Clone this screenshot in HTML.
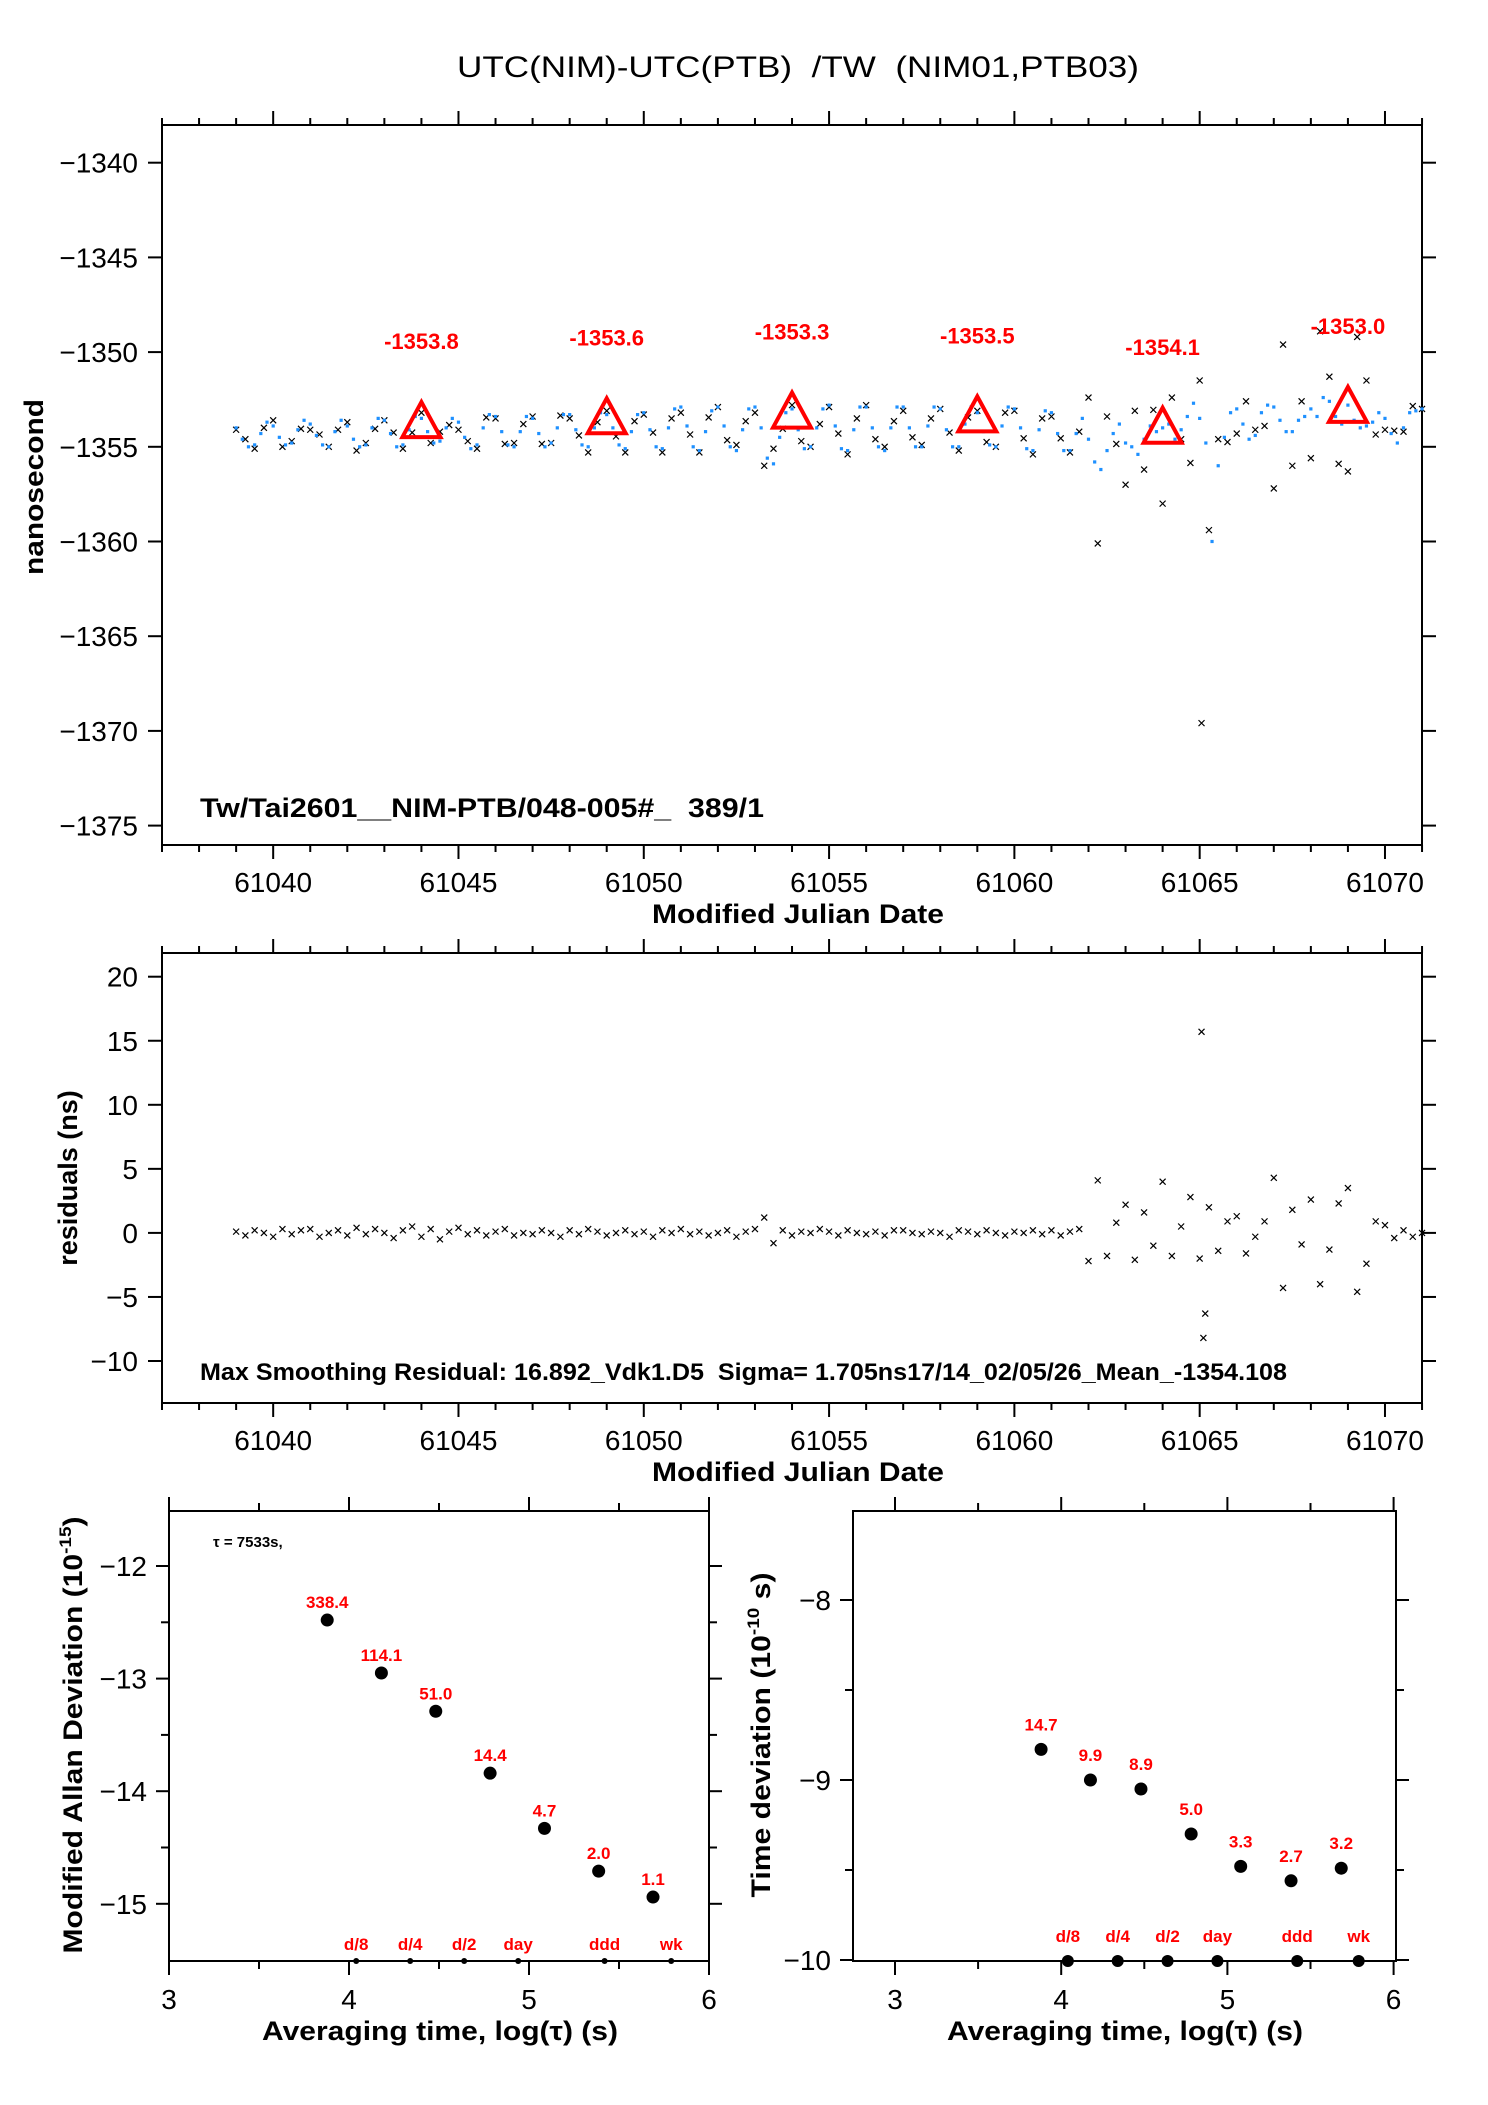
<!DOCTYPE html>
<html><head><meta charset="utf-8"><style>
html,body{margin:0;padding:0;background:#fff;}
svg{display:block;font-family:"Liberation Sans",Arial,sans-serif;}
text{white-space:pre;}
</style></head><body>
<svg id="chart" width="1488" height="2105" viewBox="0 0 1488 2105" xmlns="http://www.w3.org/2000/svg">
<rect x="0" y="0" width="1488" height="2105" fill="#fff"/>
<text x="798" y="77" font-size="30" text-anchor="middle" textLength="682" lengthAdjust="spacingAndGlyphs" xml:space="preserve">UTC(NIM)-UTC(PTB)  /TW  (NIM01,PTB03)</text>
<g id="p1"></g>
<g id="p2"></g>
<g id="p3"></g>
<g id="p4"></g>
</svg>
<script>
// ---- data ----
const blueStartMJD = 61039.0;
const blueStep = 1/6;
const blueValues = [
-1354.0,-1354.6,-1355.0,-1354.9,-1354.3,-1353.7,
-1353.9,-1354.5,-1354.9,-1354.8,-1354.1,-1353.6,
-1353.8,-1354.4,-1354.9,-1355.0,-1354.2,-1353.6,
-1353.9,-1354.6,-1355.0,-1354.9,-1354.0,-1353.5,
-1353.6,-1354.3,-1355.0,-1354.9,-1354.1,-1353.4,
-1353.5,-1354.2,-1354.8,-1354.7,-1354.0,-1353.5,
-1353.7,-1354.5,-1355.1,-1354.9,-1354.0,-1353.3,
-1353.4,-1354.2,-1354.9,-1355.0,-1354.2,-1353.4,
-1353.5,-1354.3,-1355.0,-1354.8,-1354.0,-1353.3,
-1353.3,-1354.1,-1354.9,-1355.0,-1354.0,-1353.2,
-1353.3,-1354.0,-1354.9,-1355.1,-1354.2,-1353.3,
-1353.2,-1354.1,-1355.0,-1355.1,-1354.0,-1353.0,
-1352.9,-1353.9,-1355.0,-1355.2,-1354.2,-1353.1,
-1352.9,-1353.9,-1355.0,-1355.2,-1354.1,-1353.0,
-1352.9,-1354.0,-1355.6,-1355.9,-1354.5,-1353.2,
-1353.0,-1354.1,-1355.1,-1355.0,-1354.0,-1353.0,
-1352.8,-1353.9,-1355.1,-1355.2,-1354.1,-1352.9,
-1352.9,-1354.0,-1355.0,-1355.2,-1354.0,-1352.9,
-1352.9,-1354.0,-1355.0,-1355.0,-1353.9,-1352.9,
-1353.0,-1354.1,-1355.0,-1355.0,-1353.8,-1352.9,
-1353.2,-1354.2,-1354.9,-1355.0,-1353.9,-1352.9,
-1353.0,-1354.0,-1355.1,-1355.2,-1354.1,-1353.1,
-1353.2,-1354.3,-1355.2,-1355.2,-1354.3,-1353.5,
-1354.6,-1355.8,-1356.2,-1355.2,-1354.3,-1353.8,
-1354.8,-1355.0,-1355.4,-1354.6,-1353.9,-1354.2,
-1354.0,-1353.8,-1354.6,-1354.1,-1353.4,-1352.7,
-1353.5,-1354.8,-1360.0,-1356.0,-1354.5,-1353.2,
-1353.0,-1353.8,-1354.6,-1354.4,-1353.2,-1352.8,
-1352.9,-1353.6,-1354.2,-1354.2,-1353.6,-1353.4,
-1353.0,-1353.4,-1352.4,-1352.6,-1353.4,-1353.8,
-1352.8,-1353.6,-1354.0,-1353.9,-1353.7,-1353.2,
-1353.5,-1354.3,-1354.8,-1354.0,-1353.2,-1353.1,
-1353.0];
const residStartMJD = 61039.0;
const residStep = 0.25;
const residValues = [
0.1,-0.2,0.2,0.0, -0.3,0.3,-0.1,0.2, 0.3,-0.3,0.0,0.2, -0.2,0.4,-0.1,0.3,
0.0,-0.4,0.2,0.5, -0.3,0.3,-0.5,0.1, 0.4,-0.1,0.2,-0.2, 0.1,0.3,-0.2,0.0,
-0.1,0.2,0.0,-0.3, 0.2,-0.1,0.3,0.1, -0.2,0.0,0.2,-0.1, 0.1,-0.3,0.2,0.0,
0.3,-0.1,0.1,-0.2, 0.0,0.2,-0.3,0.1, 0.3,1.2,-0.8,0.2, -0.2,0.1,0.0,0.3,
0.1,-0.2,0.2,0.0, -0.1,0.1,-0.2,0.2, 0.2,0.0,-0.1,0.1, 0.0,-0.3,0.2,0.1,
-0.1,0.2,0.0,-0.2, 0.1,0.0,0.2,-0.1, 0.2,-0.2,0.1,0.3, -2.2,4.1,-1.8,0.8,
2.2,-2.1,1.6,-1.0, 4.0,-1.8,0.5,2.8, -2.0,2.0,-1.4,0.9, 1.3,-1.6,-0.3,0.9,
4.3,-4.3,1.8,-0.9, 2.6,-4.0,-1.3,2.3, 3.5,-4.6,-2.4,0.9, 0.6,-0.4,0.2,-0.3,
0.0];
const outlierMJD = [61065.05, 61065.1, 61065.15];
const outlierResid = [15.7, -8.2, -6.3];
const triMJD = [61044, 61049, 61054, 61059, 61064, 61069];
const triValues = [-1353.8, -1353.6, -1353.3, -1353.5, -1354.1, -1353.0];
const triLabels = ["-1353.8","-1353.6","-1353.3","-1353.5","-1354.1","-1353.0"];
const p1YTicks = [-1340,-1345,-1350,-1355,-1360,-1365,-1370,-1375];
const p2YTicks = [20,15,10,5,0,-5,-10];
const mjdTicks = [61040,61045,61050,61055,61060,61065,61070];
const mdevLogTau = [3.879,4.18,4.482,4.784,5.086,5.387,5.689];
const mdevValues = [-12.48,-12.95,-13.29,-13.84,-14.33,-14.71,-14.94];
const mdevLabels = ["338.4","114.1","51.0","14.4","4.7","2.0","1.1"];
const tdevLogTau = [3.879,4.176,4.48,4.782,5.08,5.383,5.685];
const tdevValues = [-8.83,-9.0,-9.05,-9.30,-9.48,-9.56,-9.49];
const tdevLabels = ["14.7","9.9","8.9","5.0","3.3","2.7","3.2"];
const markerLogTau = [4.04,4.34,4.64,4.94,5.42,5.79];
const markerLabels = ["d/8","d/4","d/2","day","ddd","wk"];
const mdevYTicks = [-12,-13,-14,-15];
const tdevYTicks = [-8,-9,-10];
const logTicks = [3,4,5,6];

// ---- helpers ----
const NS="http://www.w3.org/2000/svg";
function mk(parent, tag, attrs, txt){
  const e=document.createElementNS(NS,tag);
  for(const k in attrs) e.setAttribute(k,attrs[k]);
  if(txt!==undefined) e.textContent=txt;
  parent.appendChild(e); return e;
}
const xs = d => 162 + (d-61037)*37.06;
const ys1 = v => 162.7 + (-1340 - v)*18.94;
const ys2 = v => 976.7 + (20 - v)*12.81;
const bx = l => 169 + (l-3)*180;
const by = v => 1566 + (-12 - v)*112.6;
const rx = l => 895 + (l-3)*166.2;
const ry = v => 1600 + (-8 - v)*180;
const blueAt = d => {
  const f=(d-blueStartMJD)/blueStep; const i=Math.max(0,Math.min(blueValues.length-2,Math.floor(f)));
  const t=f-i; return blueValues[i]*(1-t)+blueValues[i+1]*t;
};
const L = (g,x1,y1,x2,y2,w) => mk(g,'line',{x1,y1,x2,y2,stroke:'#000','stroke-width':w||2});

function cross(g,x,y,name){
  const c=mk(g,'path',{d:`M${x-3},${y-3}L${x+3},${y+3}M${x-3},${y+3}L${x+3},${y-3}`,stroke:'#000','stroke-width':1.2,fill:'none'});
  
  
}

function mjdFrame(g, top, bottom, yTicks, ysf, labelPrefix){
  const fr=mk(g,'rect',{x:162,y:top,width:1260,height:bottom-top,fill:'none',stroke:'#000','stroke-width':2});
  
  
  for(let d=61037; d<=61071; d++){
    const major = d%5===0; const x=xs(d); const len=major?14:7;
    L(g,x,top,x,top-len,2); L(g,x,bottom,x,bottom+len,2);
  }
  mjdTicks.forEach(d=>{
    const t=mk(g,'text',{x:xs(d),y:bottom+47,'font-size':28,'text-anchor':'middle'},String(d));
    
    
  });
  yTicks.forEach(v=>{
    const y=ysf(v); L(g,148,y,162,y,2); L(g,1422,y,1436,y,2);
    const t=mk(g,'text',{x:138,y:y+10,'font-size':28,'text-anchor':'end'},(v<0?'\u2212'+(-v):String(v)));
    
    
  });
  const xt=mk(g,'text',{x:798,y:bottom+78,'font-size':27,'font-weight':'bold','text-anchor':'middle',textLength:292,lengthAdjust:'spacingAndGlyphs'},'Modified Julian Date');
  
  
}

// ---- plot 1 ----
const p1=document.getElementById('p1');
mjdFrame(p1,125,845,p1YTicks,ys1,'offset');
(function(){
  const t=mk(p1,'text',{x:0,y:0,'font-size':27,'font-weight':'bold','text-anchor':'middle',transform:'translate(43,487) rotate(-90)',textLength:176,lengthAdjust:'spacingAndGlyphs'},'nanosecond');
   
  const a=mk(p1,'text',{x:200,y:817,'font-size':27,'font-weight':'bold',textLength:564,lengthAdjust:'spacingAndGlyphs'},'Tw/Tai2601__NIM-PTB/048-005#_  389/1');
   
})();
residValues.forEach((r,i)=>{
  const d=residStartMJD+i*residStep;
  cross(p1,xs(d),ys1(blueAt(d)-r),'measurement-cross');
});
cross(p1,xs(outlierMJD[0]),ys1(blueAt(outlierMJD[0])-outlierResid[0]),'measurement-outlier');
blueValues.forEach((v,i)=>{
  const d=blueStartMJD+i*blueStep;
  const r=mk(p1,'rect',{x:xs(d)-1.6,y:ys1(v)-1.6,width:3.2,height:3.2,fill:'#1e90ff'});
  
  
});
triMJD.forEach((d,i)=>{
  const x=xs(d), y=ys1(triValues[i]);
  const t=mk(p1,'polygon',{points:`${x},${y-22} ${x-19},${y+13} ${x+19},${y+13}`,fill:'none',stroke:'#ff0000','stroke-width':4});
  
  
  const l=mk(p1,'text',{x:x,y:y-75,'font-size':22,'font-weight':'bold',fill:'#ff0000','text-anchor':'middle'},triLabels[i]);
  
  
});

// ---- plot 2 ----
const p2=document.getElementById('p2');
mjdFrame(p2,953,1403,p2YTicks,ys2,'residuals');
(function(){
  const t=mk(p2,'text',{x:0,y:0,'font-size':27,'font-weight':'bold','text-anchor':'middle',transform:'translate(77,1178) rotate(-90)'},'residuals (ns)');
   
  const a=mk(p2,'text',{x:200,y:1380,'font-size':24,'font-weight':'bold',textLength:1087,lengthAdjust:'spacingAndGlyphs'},'Max Smoothing Residual: 16.892_Vdk1.D5  Sigma= 1.705ns17/14_02/05/26_Mean_-1354.108');
   
})();
residValues.forEach((r,i)=>{ cross(p2,xs(residStartMJD+i*residStep),ys2(r),'residual-cross'); });
outlierMJD.forEach((d,i)=>{ cross(p2,xs(d),ys2(outlierResid[i]),'residual-outlier'); });

// ---- stability frames ----
function stabFrame(g,left,right,xf,yTicks,yf,name,minorY){
  const fr=mk(g,'rect',{x:left,y:1511,width:right-left,height:450,fill:'none',stroke:'#000','stroke-width':2});
  
  
  [3,3.5,4,4.5,5,5.5,6].forEach(l=>{
    const x=xf(l); const major=Number.isInteger(l); const len=major?14:8;
    L(g,x,1511,x,1511-len,2); L(g,x,1961,x,1961+len,2);
  });
  logTicks.forEach(l=>{
    const t=mk(g,'text',{x:xf(l),y:2009,'font-size':28,'text-anchor':'middle'},String(l));
     
  });
  yTicks.forEach(v=>{
    const y=yf(v); L(g,left-13,y,left,y,2); L(g,right,y,right+13,y,2);
    const t=mk(g,'text',{x:left-22,y:y+10,'font-size':28,'text-anchor':'end'},'\u2212'+(-v));
     
  });
  minorY.forEach(v=>{ const y=yf(v); L(g,left-8,y,left,y,2); L(g,right,y,right+8,y,2); });
}
const p3=document.getElementById('p3');
stabFrame(p3,169,709,bx,mdevYTicks,by,'mdev',[-12.5,-13.5,-14.5]);
const p4=document.getElementById('p4');
stabFrame(p4,853,1396,rx,tdevYTicks,ry,'tdev',[-8.5,-9.5]);
(function(){
  let t=mk(p3,'text',{x:440,y:2040,'font-size':27,'font-weight':'bold','text-anchor':'middle',textLength:356,lengthAdjust:'spacingAndGlyphs'},'Averaging time, log(\u03c4) (s)');
   
  t=mk(p4,'text',{x:1125,y:2040,'font-size':27,'font-weight':'bold','text-anchor':'middle',textLength:356,lengthAdjust:'spacingAndGlyphs'},'Averaging time, log(\u03c4) (s)');
   
  t=mk(p3,'text',{x:0,y:0,'font-size':27,'font-weight':'bold','text-anchor':'middle',transform:'translate(82,1735) rotate(-90)',textLength:437,lengthAdjust:'spacingAndGlyphs'});
  t.innerHTML='Modified Allan Deviation (10<tspan font-size="17" dy="-11">-15</tspan><tspan dy="11">)</tspan>';
   
  t=mk(p4,'text',{x:0,y:0,'font-size':27,'font-weight':'bold','text-anchor':'middle',transform:'translate(770,1735) rotate(-90)',textLength:325,lengthAdjust:'spacingAndGlyphs'});
  t.innerHTML='Time deviation (10<tspan font-size="17" dy="-11">-10</tspan><tspan dy="11"> s)</tspan>';
   
  t=mk(p3,'text',{x:213,y:1547,'font-size':15,'font-weight':'bold'},'\u03c4 = 7533s,');
   
})();
mdevLogTau.forEach((l,i)=>{
  const c=mk(p3,'circle',{cx:bx(l),cy:by(mdevValues[i]),r:6.5,fill:'#000'});
   
  const t=mk(p3,'text',{x:bx(l),y:by(mdevValues[i])-12,'font-size':17,'font-weight':'bold',fill:'#ff0000','text-anchor':'middle'},mdevLabels[i]);
   
});
tdevLogTau.forEach((l,i)=>{
  const c=mk(p4,'circle',{cx:rx(l),cy:ry(tdevValues[i]),r:6.5,fill:'#000'});
   
  const t=mk(p4,'text',{x:rx(l),y:ry(tdevValues[i])-19,'font-size':17,'font-weight':'bold',fill:'#ff0000','text-anchor':'middle'},tdevLabels[i]);
   
});
markerLogTau.forEach((l,i)=>{
  let c=mk(p3,'circle',{cx:bx(l),cy:1961,r:3,fill:'#000'});
   
  let t=mk(p3,'text',{x:bx(l),y:1950,'font-size':17,'font-weight':'bold',fill:'#ff0000','text-anchor':'middle'},markerLabels[i]);
   
  c=mk(p4,'circle',{cx:rx(l),cy:1961,r:6,fill:'#000'});
   
  t=mk(p4,'text',{x:rx(l),y:1942,'font-size':17,'font-weight':'bold',fill:'#ff0000','text-anchor':'middle'},markerLabels[i]);
   
});
</script>
</body></html>
